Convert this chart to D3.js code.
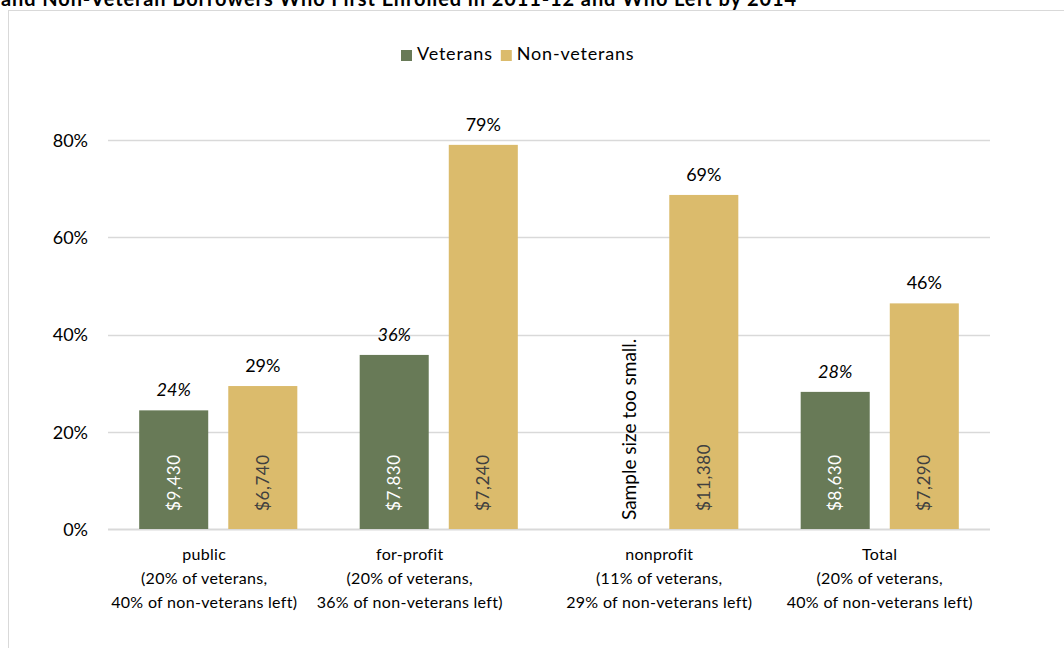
<!DOCTYPE html>
<html>
<head>
<meta charset="utf-8">
<script src="https://cdn.jsdelivr.net/npm/d3@7"></script>
<style>
	body {
		margin: 0;
		background: #fff;
		font-family: Lato, "Liberation Sans", sans-serif;
	}
	svg text {
		fill: #000;
	}
</style>
</head>
<body>
<div id="chart"></div>
<script>
// data
var categories = ["public", "for-profit", "nonprofit", "Total"];
var categoryNote1 = ["(20% of veterans,", "(20% of veterans,", "(11% of veterans,", "(20% of veterans,"];
var categoryNote2 = ["40% of non-veterans left)", "36% of non-veterans left)", "29% of non-veterans left)", "40% of non-veterans left)"];
var seriesNames = ["Veterans", "Non-veterans"];
var veteranShare = [0.244, 0.358, null, 0.282];
var nonVeteranShare = [0.294, 0.790, 0.687, 0.464];
var veteranDebt = [9430, 7830, null, 8630];
var nonVeteranDebt = [6740, 7240, 11380, 7290];
var yTicks = [0, 0.2, 0.4, 0.6, 0.8];
var missingText = "Sample size too small.";
var titleText = "and Non-Veteran Borrowers Who First Enrolled in 2011-12 and Who Left by 2014";

var colors = {"Veterans": "#687a57", "Non-veterans": "#dbbb6c"};

var width = 1064, height = 648;
var plot = {left: 108, right: 990, top: 140, bottom: 529};

var svg = d3.select("#chart").append("svg")
	.attr("width", width)
	.attr("height", height);

// title (cut at the top in the original)
svg.append("text")
	.attr("x", 1)
	.attr("y", 6)
	.style("font-size", "20px")
	.style("font-weight", "700")
	.style("letter-spacing", "0.9px")
	.text(titleText);

// frame
svg.append("rect")
	.attr("x", 8.5).attr("y", 10.5)
	.attr("width", width).attr("height", height)
	.attr("fill", "none")
	.attr("stroke", "#d9d9d9")
	.attr("stroke-width", 1);

var x0 = d3.scaleBand().domain(categories).range([plot.left, plot.right]);
var x1 = d3.scaleBand().domain(seriesNames).range([0, x0.bandwidth()])
	.paddingInner(0.225).paddingOuter(0.35);
var y = d3.scaleLinear().domain([0, 0.8]).range([plot.bottom, plot.top]);

// grid
svg.append("g").selectAll("line")
	.data(yTicks)
	.enter().append("line")
	.attr("x1", plot.left).attr("x2", plot.right)
	.attr("y1", function(d) { return Math.round(y(d)) + 0.5; })
	.attr("y2", function(d) { return Math.round(y(d)) + 0.5; })
	.attr("stroke", "#d9d9d9")
	.attr("stroke-width", function(d) { return d == 0 ? 2 : 1.5; });

// y axis labels
var yAxis = d3.axisLeft(y).tickValues(yTicks).tickFormat(d3.format(".0%")).tickSize(0).tickPadding(20);
var ya = svg.append("g").attr("transform", "translate(" + plot.left + ",0)").call(yAxis);
ya.select(".domain").remove();
ya.selectAll("text")
	.attr("dy", "0.36em")
	.style("font-family", "Lato, sans-serif")
	.style("font-size", "18px")
	.attr("fill", "#000");

// rows for the bars
var rows = [];
categories.forEach(function(c, i) {
	rows.push({cat: c, series: "Veterans", share: veteranShare[i], debt: veteranDebt[i]});
	rows.push({cat: c, series: "Non-veterans", share: nonVeteranShare[i], debt: nonVeteranDebt[i]});
});
var present = rows.filter(function(d) { return d.share != null; });

function barX(d) { return x0(d.cat) + x1(d.series); }

svg.append("g").selectAll("rect")
	.data(present)
	.enter().append("rect")
	.attr("x", barX)
	.attr("y", function(d) { return y(d.share); })
	.attr("width", x1.bandwidth())
	.attr("height", function(d) { return y(0) - y(d.share); })
	.attr("fill", function(d) { return colors[d.series]; });

// share labels above bars
var pct = d3.format(".0%");
svg.append("g").selectAll("text")
	.data(present)
	.enter().append("text")
	.attr("x", function(d) { return barX(d) + x1.bandwidth() / 2; })
	.attr("y", function(d) { return y(d.share) - 14; })
	.attr("text-anchor", "middle")
	.style("font-size", "18px")
	.style("font-style", function(d) { return d.series == "Veterans" ? "italic" : "normal"; })
	.text(function(d) { return pct(d.share); });

// debt labels inside bars, rotated
var money = d3.format(",");
svg.append("g").selectAll("text")
	.data(present)
	.enter().append("text")
	.attr("transform", function(d) {
		return "translate(" + (barX(d) + x1.bandwidth() / 2) + "," + (y(0) - 18) + ") rotate(-90)";
	})
	.attr("dy", "0.35em")
	.style("font-size", "17px")
	.style("letter-spacing", "0.6px")
	.style("fill", function(d) { return d.series == "Veterans" ? "#fff" : "#404040"; })
	.text(function(d) { return "$" + money(d.debt); });

// missing veteran bar note
rows.filter(function(d) { return d.share == null; }).forEach(function(d) {
	svg.append("text")
		.attr("transform", "translate(" + (barX(d) + x1.bandwidth() / 2 + 21) + "," + (y(0) - 9) + ") rotate(-90)")
		.style("font-size", "19px")
		.text(missingText);
});

// category labels
var labelNudge = [-14, -29, 0, 0];
var cl = svg.append("g").selectAll("text")
	.data(categories)
	.enter().append("text")
	.attr("text-anchor", "middle")
	.style("font-size", "16px")
	.style("letter-spacing", "0.3px");
cl.each(function(c, i) {
	var t = d3.select(this);
	var cx = x0(c) + x0.bandwidth() / 2 + labelNudge[i];
	[c, categoryNote1[i], categoryNote2[i]].forEach(function(line, k) {
		t.append("tspan").attr("x", cx).attr("y", 560 + k * 24).text(line);
	});
});

// legend
var legend = svg.append("g").attr("transform", "translate(401,50)");
var lx = 0;
seriesNames.forEach(function(s) {
	legend.append("rect").attr("x", lx).attr("y", 0).attr("width", 11).attr("height", 11).attr("fill", colors[s]);
	var t = legend.append("text")
		.attr("x", lx + 16).attr("y", 10)
		.style("font-size", "18px")
		.style("letter-spacing", "0.8px")
		.text(s);
	lx += 16 + t.node().getComputedTextLength() + 8;
});
</script>
</body>
</html>
